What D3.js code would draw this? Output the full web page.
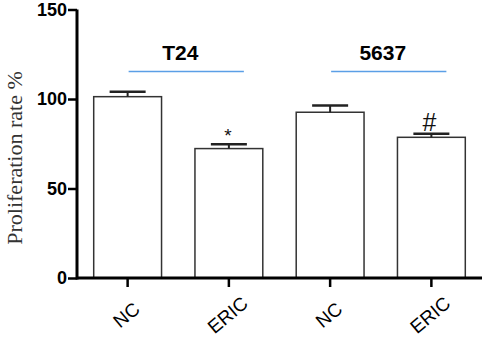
<!DOCTYPE html>
<html>
<head>
<meta charset="utf-8">
<script src="https://cdn.jsdelivr.net/npm/d3@7"></script>
<style>
  body { margin: 0; background: #fff; }
  svg { display: block; }
</style>
</head>
<body>
<svg id="chart" width="484" height="339"></svg>
<script>
// data
const categories = ['NC', 'ERIC', 'NC ', 'ERIC '];
const means = [101.3, 72.3, 92.6, 78.6];
const errors = [2.8, 2.4, 3.7, 2.0];
const marks = ['', '*', '', '#'];
const groups = ['T24', '5637'];
const yTicks = [0, 50, 100, 150];

const svg = d3.select('#chart');

const x = d3.scaleBand()
    .domain(categories)
    .range([77, 482])
    .paddingInner(0.33)
    .paddingOuter(0.165);

const y = d3.scaleLinear()
    .domain([0, 150])
    .range([278, 9.5]);

// bars
svg.selectAll('.bar')
    .data(categories)
    .enter().append('rect')
    .attr('class', 'bar')
    .attr('x', d => x(d))
    .attr('y', (d, i) => y(means[i]))
    .attr('width', x.bandwidth())
    .attr('height', (d, i) => y(0) - y(means[i]))
    .attr('fill', 'white')
    .attr('stroke', '#333')
    .attr('stroke-width', 1.5);

// error bars (upper only)
const err = svg.selectAll('.err')
    .data(categories)
    .enter().append('g')
    .attr('class', 'err');

err.append('line')
    .attr('x1', d => x(d) + x.bandwidth() / 2)
    .attr('x2', d => x(d) + x.bandwidth() / 2)
    .attr('y1', (d, i) => y(means[i]))
    .attr('y2', (d, i) => y(means[i] + errors[i]))
    .attr('stroke', '#222')
    .attr('stroke-width', 2);

err.append('line')
    .attr('x1', d => x(d) + x.bandwidth() / 2 - 18)
    .attr('x2', d => x(d) + x.bandwidth() / 2 + 18)
    .attr('y1', (d, i) => y(means[i] + errors[i]))
    .attr('y2', (d, i) => y(means[i] + errors[i]))
    .attr('stroke', '#222')
    .attr('stroke-width', 2.5);

// significance marks
svg.selectAll('.mark')
    .data(categories)
    .enter().append('text')
    .attr('class', 'mark')
    .attr('x', (d, i) => x(d) + x.bandwidth() / 2 + (marks[i] === '#' ? -2 : -1))
    .attr('y', (d, i) => y(means[i] + errors[i]) - (marks[i] === '#' ? 3 : 2))
    .attr('text-anchor', 'middle')
    .attr('font-family', 'Liberation Sans, Arial, sans-serif')
    .attr('font-size', (d, i) => marks[i] === '*' ? 19 : 25)
    .attr('fill', '#111')
    .text((d, i) => marks[i]);

// group labels and blue lines
groups.forEach((g, gi) => {
    const a = categories[gi * 2], b = categories[gi * 2 + 1];
    const x1 = x(a) + x.bandwidth() / 2;
    const x2 = x(b) + x.bandwidth() / 2;
    svg.append('line')
        .attr('x1', x1 + 1).attr('x2', x2 + 15)
        .attr('y1', 71.5).attr('y2', 71.5)
        .attr('stroke', '#5b9fe6')
        .attr('stroke-width', 1.3);
    svg.append('text')
        .attr('x', (x1 + x2) / 2 + 2)
        .attr('y', 60)
        .attr('text-anchor', 'middle')
        .attr('font-family', 'Liberation Sans, Arial, sans-serif')
        .attr('font-weight', 'bold')
        .attr('font-size', 21)
        .text(g);
});

// y axis
const yAxis = svg.append('g')
    .attr('transform', 'translate(77,0)')
    .call(d3.axisLeft(y).tickValues(yTicks).tickSize(9).tickPadding(1));
yAxis.select('.domain').attr('stroke', '#000').attr('stroke-width', 3)
    .attr('d', `M0,${y(150)}V${y(0) + 1.5}`);
yAxis.selectAll('.tick line').attr('stroke', '#000').attr('stroke-width', 2.5);
yAxis.selectAll('.tick text')
    .attr('font-family', 'Liberation Sans, Arial, sans-serif')
    .attr('font-weight', 'bold')
    .attr('font-size', 18)
    .attr('fill', '#000');

// x axis
const xAxis = svg.append('g')
    .attr('transform', `translate(0,${y(0)})`)
    .call(d3.axisBottom(x).tickSize(9).tickSizeOuter(0));
xAxis.select('.domain').attr('stroke', '#000').attr('stroke-width', 3)
    .attr('d', 'M77,0H482');
xAxis.selectAll('.tick line').attr('stroke', '#000').attr('stroke-width', 2.5);
xAxis.selectAll('.tick text')
    .attr('font-family', 'Liberation Sans, Arial, sans-serif')
    .attr('font-size', 19)
    .attr('fill', '#000')
    .attr('text-anchor', 'middle')
    .attr('dy', 0)
    .attr('transform', 'translate(3,42) rotate(-40)')
    .attr('y', 0)
    .attr('x', 0)
    .text(d => d.trim());

// y label
svg.append('text')
    .attr('transform', `translate(22,${158}) rotate(-90)`)
    .attr('text-anchor', 'middle')
    .attr('font-family', 'Liberation Serif, Times New Roman, serif')
    .attr('font-size', 22)
    .attr('fill', '#333')
    .text('Proliferation rate %');
</script>
</body>
</html>
